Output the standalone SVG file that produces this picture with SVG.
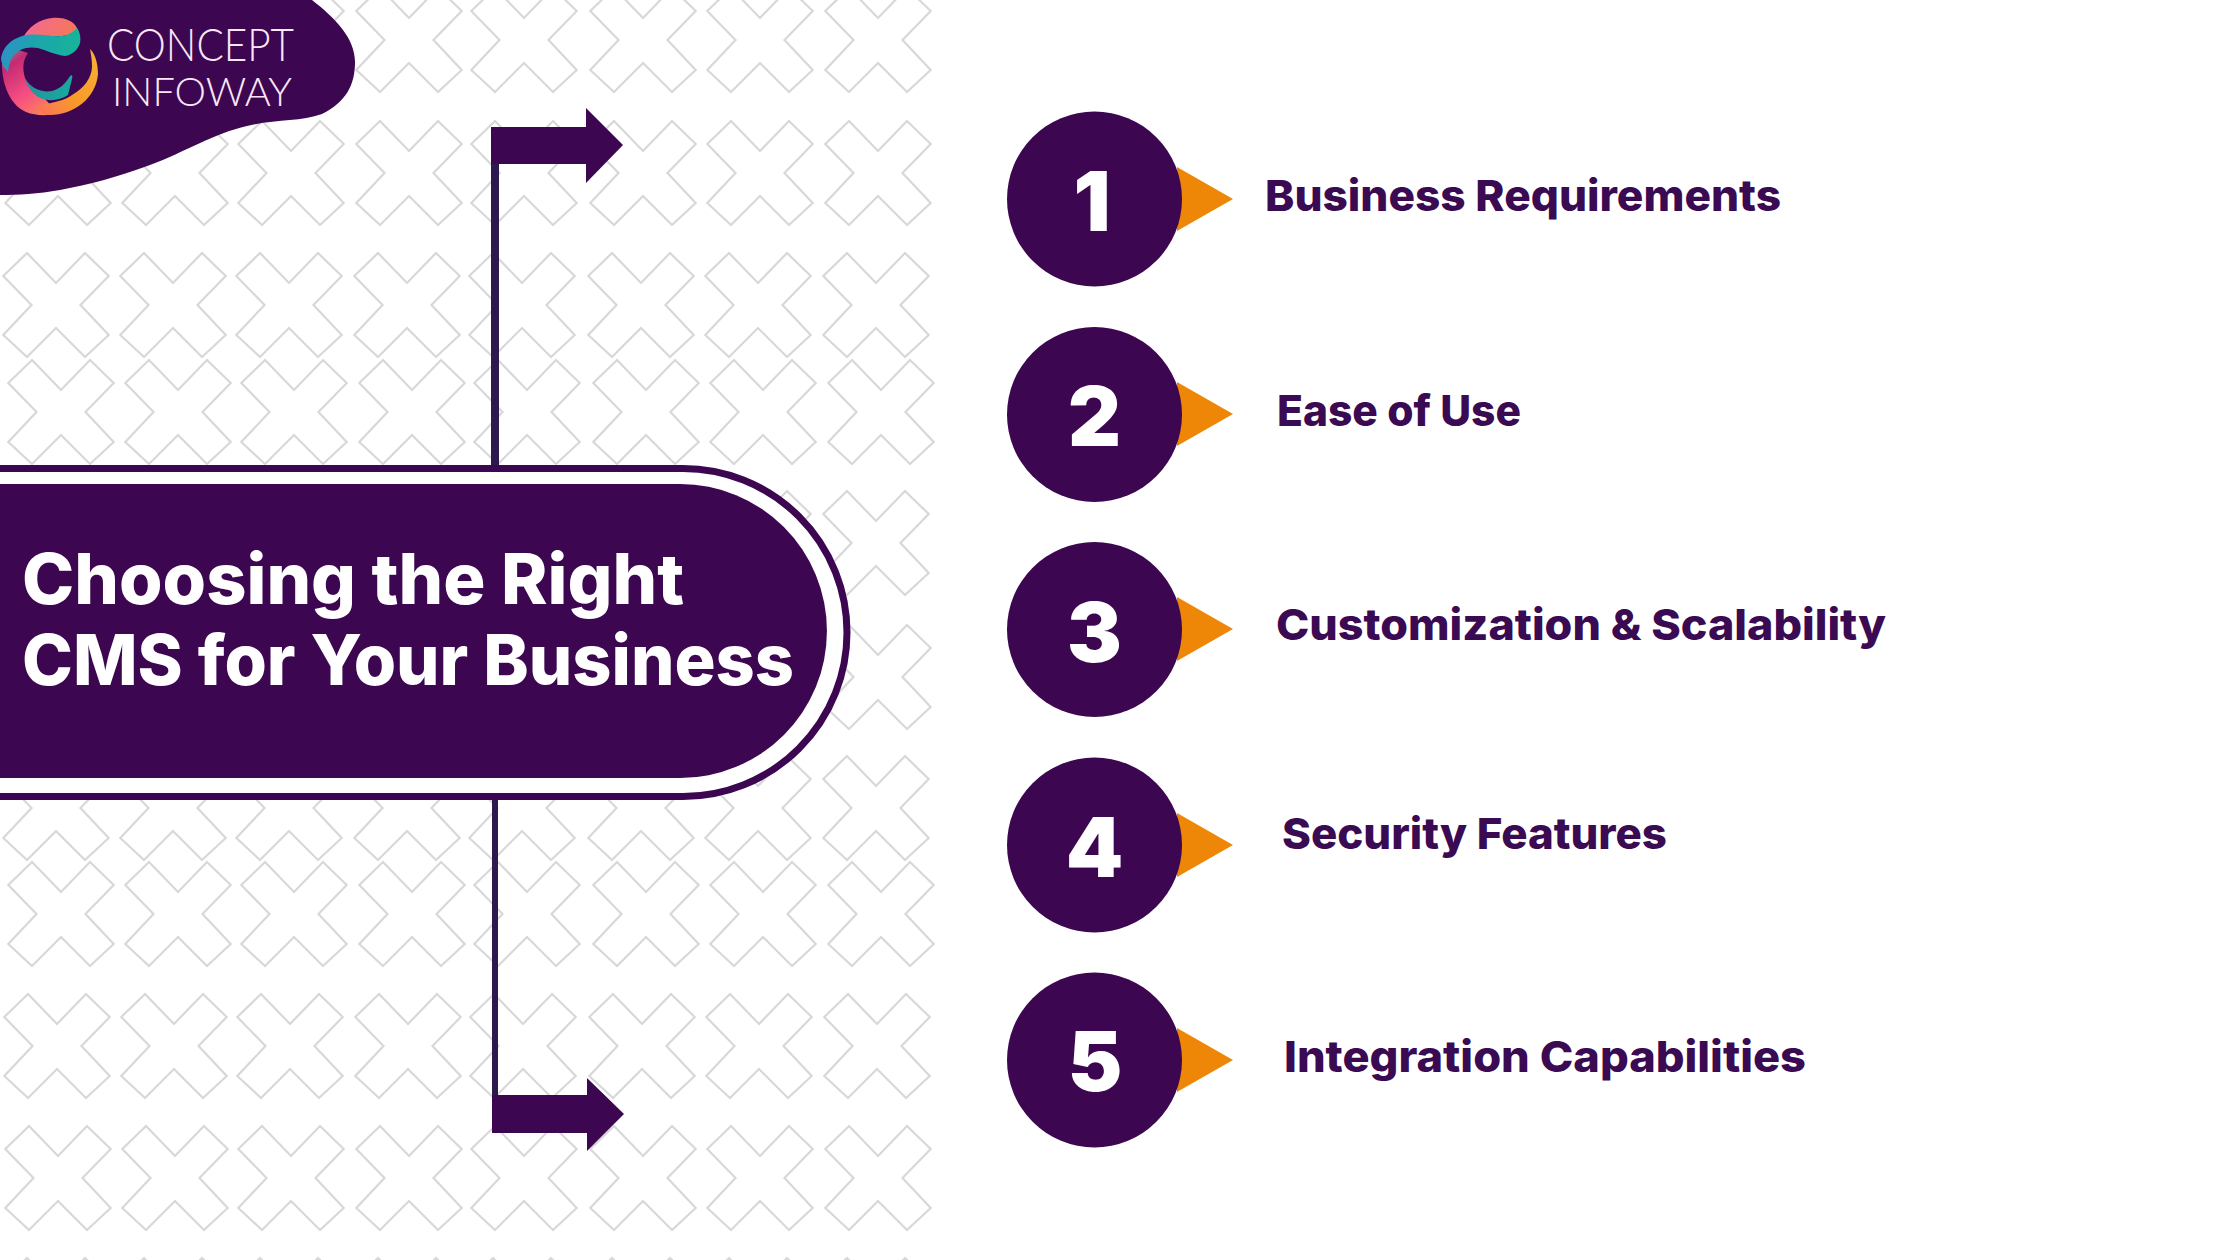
<svg xmlns="http://www.w3.org/2000/svg" xmlns:xlink="http://www.w3.org/1999/xlink" width="2240" height="1260" viewBox="0 0 2240 1260">
<style>
.x{fill:none;stroke:#d8d8d8;stroke-width:2.200;stroke-linejoin:miter}
.p{fill:#3c0650}
.o{fill:#ee8708}
.t{font-family:Inter,"Liberation Sans",sans-serif;font-weight:800}
.l{font-size:43px;fill:#3a0a52}
.h{font-size:70px;fill:#fff}
.n{font-size:82px;fill:#fff;font-weight:900;text-anchor:middle}
.b{font-family:Lato,"Liberation Sans",sans-serif;font-weight:300;fill:#f9e6f6}
.c{fill:#2c1a4e}
</style>
<defs>
<path id="x" class="x" d="M-29-52L0-22L29-52L52.700-29L24.500 0L52.700 30L29 52L0 23L-29 52L-52.700 30L-24.500 0L-52.700-29Z"/>
<g id="row">
<use href="#x" x="0"/><use href="#x" x="117"/><use href="#x" x="233"/><use href="#x" x="351"/><use href="#x" x="466"/><use href="#x" x="585"/><use href="#x" x="702"/><use href="#x" x="820"/>
</g>
<linearGradient id="g1" x1="0" y1="0" x2="1" y2="0.3"><stop offset="0" stop-color="#f0679a"/><stop offset="1" stop-color="#f6775a"/></linearGradient>
<linearGradient id="g2" x1="0" y1="0" x2="1" y2="0.1"><stop offset="0" stop-color="#2f8fc9"/><stop offset="0.55" stop-color="#1ba8a8"/><stop offset="1" stop-color="#17b39a"/></linearGradient>
<linearGradient id="g3" x1="0" y1="0" x2="0.6" y2="1"><stop offset="0" stop-color="#5fae90"/><stop offset="0.25" stop-color="#c42a72"/><stop offset="0.7" stop-color="#f74f82"/><stop offset="1" stop-color="#fb7a60"/></linearGradient>
<linearGradient id="g4" x1="1" y1="0" x2="0" y2="1"><stop offset="0" stop-color="#f7b133"/><stop offset="0.6" stop-color="#f8992a"/><stop offset="1" stop-color="#fb6f5f"/></linearGradient>
<linearGradient id="g5" x1="0" y1="0" x2="1" y2="0.2"><stop offset="0" stop-color="#2a8d9d"/><stop offset="1" stop-color="#17a99f"/></linearGradient>
</defs>
<rect width="2240" height="1260" fill="#fff"/>
<g id="pattern">
<use href="#row" x="58" y="40"/>
<use href="#row" x="58" y="173"/>
<use href="#row" x="56" y="305"/>
<use href="#row" x="61" y="412"/>
<use href="#row" x="56" y="543"/>
<use href="#row" x="58" y="677"/>
<use href="#row" x="56" y="808"/>
<use href="#row" x="61" y="914"/>
<use href="#row" x="57" y="1046"/>
<use href="#row" x="58" y="1178"/>
<use href="#row" x="56" y="1310"/>
</g>
<g id="logo">
<path class="p" d="M0 0H312C335 18 355 38 355 62C355 85 346 102 322 114C300 122 275 119 247 126C215 133 185 152 150 165C115 178 90 184 60 190C38 194 18 195 0 195Z"/>
<path fill="url(#g3)" d="M2 60C1 80 8 104 26 112C36 116 48 116 58 113L45 99C35 95 28 88 25 78C22 68 23 60 28 53L12 48Z"/>
<path fill="url(#g4)" d="M90 49C96 54 98 66 98 74C96 98 74 115 50 115C44 115 40 112 37 106C52 103 66 100 72 95C84 88 92 78 92 66C92 60 91 55 90 49Z"/>
<path fill="url(#g5)" d="M25 78C30 88 42 93 52 91C60 89 66 83 70 76C72 74 73 76 72 79L68 95C60 100 50 102 40 98C32 94 27 86 25 78Z"/>
<path fill="url(#g1)" d="M23 38C28 27 40 19 52 18C65 17 76 21 79 33L62 36C50 37 35 36 23 38Z"/>
<path fill="url(#g2)" d="M1 58C3 47 10 40 22 36C35 32 50 37 62 36C68 35 72 33 77 28C80 32 81 38 80 43C78 50 72 55 65 56C55 55 46 50 38 48C28 46 18 49 13 56C10 60 9 65 8 72C4 68 1 63 1 58Z"/>
<text class="b" x="107" y="61" font-size="46" textLength="187" lengthAdjust="spacingAndGlyphs">CONCEPT</text>
<text class="b" x="112" y="106" font-size="39" textLength="180" lengthAdjust="spacingAndGlyphs">INFOWAY</text>
</g>
<g id="connectors">
<rect class="c" x="491" y="150" width="8" height="320"/>
<rect class="c" x="492" y="796" width="6" height="305"/>
<path class="p" d="M491 127H586V108L623 145L586 183V164H491Z"/>
<path class="p" d="M492 1095H587V1078L624 1114L587 1151V1133H492Z"/>
</g>
<g id="title">
<path d="M-10 468.500H683A164 164 0 0 1 683 796.500H-10Z" fill="#fff" stroke="#3c0650" stroke-width="7"/>
<path class="p" d="M-10 484H680A147 147 0 0 1 680 778H-10Z"/>
<text class="t h" x="22" y="604" textLength="662" lengthAdjust="spacingAndGlyphs">Choosing the Right</text>
<text class="t h" x="22" y="685" textLength="772" lengthAdjust="spacingAndGlyphs">CMS for Your Business</text>
</g>
<g id="step-1">
<path class="o" d="M1177 167L1233 199L1177 231Z"/>
<circle class="p" cx="1094.500" cy="199" r="87.500"/>
<text class="t n" x="1092" y="231">1</text>
<text class="t l" x="1265" y="211" textLength="516" lengthAdjust="spacingAndGlyphs">Business Requirements</text>
</g>
<g id="step-2">
<path class="o" d="M1177 382L1233 414L1177 446Z"/>
<circle class="p" cx="1094.500" cy="414.500" r="87.500"/>
<text class="t n" x="1094.500" y="446">2</text>
<text class="t l" x="1277" y="426" textLength="244" lengthAdjust="spacingAndGlyphs">Ease of Use</text>
</g>
<g id="step-3">
<path class="o" d="M1177 597L1233 629L1177 661Z"/>
<circle class="p" cx="1094.500" cy="629.500" r="87.500"/>
<text class="t n" x="1094.500" y="662">3</text>
<text class="t l" x="1276" y="640" textLength="610" lengthAdjust="spacingAndGlyphs">Customization &amp; Scalability</text>
</g>
<g id="step-4">
<path class="o" d="M1177 813L1233 845L1177 877Z"/>
<circle class="p" cx="1094.500" cy="845" r="87.500"/>
<text class="t n" x="1094.500" y="877">4</text>
<text class="t l" x="1282" y="849" textLength="385" lengthAdjust="spacingAndGlyphs">Security Features</text>
</g>
<g id="step-5">
<path class="o" d="M1177 1028L1233 1060L1177 1092Z"/>
<circle class="p" cx="1094.500" cy="1060" r="87.500"/>
<text class="t n" x="1095" y="1091">5</text>
<text class="t l" x="1284" y="1072" textLength="522" lengthAdjust="spacingAndGlyphs">Integration Capabilities</text>
</g>
</svg>
